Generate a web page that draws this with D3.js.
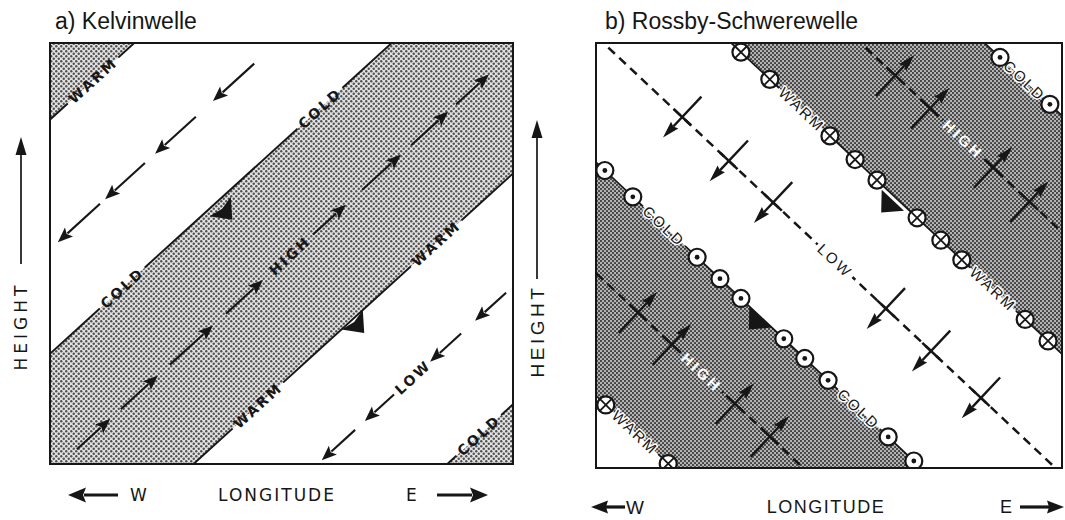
<!DOCTYPE html>
<html><head><meta charset="utf-8">
<script src="https://cdn.jsdelivr.net/npm/d3@7"></script>
<style>body{margin:0;background:#fff} svg{display:block}</style>
</head><body>
<svg id="c" width="1065" height="520"></svg>
<script>
// ---------------- data ----------------
const titles = ["a) Kelvinwelle", "b) Rossby-Schwerewelle"];
const axisX = "LONGITUDE", axisY = "HEIGHT", westLabel = "W", eastLabel = "E";

// Panel a (Kelvin wave): phase lines  longitude - height = phase  (unit square)
const kelvinLinePhase   = [-0.818, -0.262, 0.31, 0.858];
const kelvinLineName    = ["WARM", "COLD", "WARM", "COLD"];
const kelvinLineLabelAt = [[0.093], [0.156, 0.583], [0.449, 0.834], [0.926]];
const kelvinShadedBands = [[-3, -0.818], [-0.262, 0.31], [0.858, 3]];
const kelvinRowPhase    = [-0.51, 0.023, 0.578];
const kelvinRowName     = [null, "HIGH", "LOW"];
const kelvinRowLabelAt  = [null, 0.518, 0.784];
const kelvinRowArrows   = [
  [[0.441, 0.352], [0.315, 0.227], [0.205, 0.119], [0.108, 0.017]],
  [[0.058, 0.13], [0.153, 0.233], [0.259, 0.352], [0.38, 0.46], [0.568, 0.639], [0.674, 0.758], [0.78, 0.86], [0.877, 0.948]],
  [[0.985, 0.918], [0.888, 0.821], [0.743, 0.68], [0.659, 0.587]]
];
const kelvinPropagation = [[0.378, -0.221], [0.663, 0.333]]; // [longitude, phase]

// Panel b (Rossby-gravity wave): phase lines  longitude + 0.97*height = phase
const rgSlope        = 0.97;
const rgShadedBands  = [[0.165, 0.698], [1.26, 1.804]];
const rgWarmPhase    = [0.165, 1.26];
const rgWarmMarks    = [[0.021, 0.155], [0.311, 0.373, 0.502, 0.556, 0.603, 0.689, 0.74, 0.785, 0.921, 0.97]];
const rgWarmLabelAt  = [[0.084], [0.442, 0.852]];
const rgColdPhase    = [0.698, 1.804];
const rgColdMarks    = [[0.019, 0.079, 0.217, 0.266, 0.311, 0.403, 0.448, 0.498, 0.627, 0.682], [0.867, 0.974]];
const rgColdLabelAt  = [[0.146, 0.564], [0.92]];
const rgAxisPhase    = [0.445, 0.986, 1.538];
const rgAxisName     = ["HIGH", "LOW", "HIGH"];
const rgAxisLabelAt  = [0.227, 0.513, 0.788];
const rgAxisDir      = [1, -1, 1];   // +1 upward/eastward, -1 downward/westward
const rgAxisArrows   = [[0.09, 0.163, 0.298, 0.373], [0.185, 0.285, 0.38, 0.622, 0.719, 0.826], [0.642, 0.717, 0.852, 0.93]];
const rgPropagation  = [[0.627, 1.227], [0.343, 0.676]]; // [longitude, phase]

// ---------------- drawing ----------------
const INK = "#161616";
const svg = d3.select("#c");
const defs = svg.append("defs");

// halftone patterns
const pa = defs.append("pattern").attr("id", "dotsA").attr("patternUnits", "userSpaceOnUse").attr("width", 5).attr("height", 5);
pa.append("rect").attr("width", 5).attr("height", 5).attr("fill", "#e2e2e2");
[[1.25, 1.25], [3.75, 3.75]].forEach(p => pa.append("circle").attr("cx", p[0]).attr("cy", p[1]).attr("r", 1.2).attr("fill", "#505050"));
const pb = defs.append("pattern").attr("id", "dotsB").attr("patternUnits", "userSpaceOnUse").attr("width", 4).attr("height", 4);
pb.append("rect").attr("width", 4).attr("height", 4).attr("fill", "#b4b4b4");
[[1, 1], [3, 3]].forEach(p => pb.append("circle").attr("cx", p[0]).attr("cy", p[1]).attr("r", 1.05).attr("fill", "#3a3a3a"));

function norm(v) { const L = Math.hypot(v[0], v[1]); return [v[0] / L, v[1] / L]; }

function arrow(g, p0, p1, o) {
  const u = norm([p1[0] - p0[0], p1[1] - p0[1]]);
  const bx = p1[0] - u[0] * o.head, by = p1[1] - u[1] * o.head;
  g.append("line").attr("x1", p0[0]).attr("y1", p0[1])
    .attr("x2", bx + u[0] * 2).attr("y2", by + u[1] * 2)
    .attr("stroke", INK).attr("stroke-width", o.w);
  const nb = o.notch || 0;
  g.append("path").attr("d",
    `M${p1[0]},${p1[1]}L${bx - u[1] * o.hw},${by + u[0] * o.hw}L${bx + u[0] * nb},${by + u[1] * nb}L${bx + u[1] * o.hw},${by - u[0] * o.hw}Z`)
    .attr("fill", INK);
}

function makeMask(id) {
  const m = defs.append("mask").attr("id", id).attr("maskUnits", "userSpaceOnUse")
    .attr("x", 0).attr("y", 0).attr("width", 1065).attr("height", 520);
  m.append("rect").attr("width", 1065).attr("height", 520).attr("fill", "#fff");
  return m;
}

function lineLabel(g, mask, p, angle, txt, st) {
  const t = g.append("text").attr("transform", `translate(${p[0]},${p[1]}) rotate(${angle})`)
    .attr("text-anchor", "middle").attr("dy", "0.36em")
    .style("font-family", st.font).style("font-size", st.size + "px")
    .style("font-weight", st.weight || "normal").style("letter-spacing", (st.ls || 0) + "px")
    .attr("fill", st.fill || INK).text(txt);
  if (st.halo) t.attr("stroke", st.halo).attr("stroke-width", 3).attr("stroke-linejoin", "round").attr("paint-order", "stroke");
  const L = t.node().getComputedTextLength();
  if (mask) mask.append("rect").attr("x", -L / 2 - (st.pad || 4)).attr("y", -6).attr("width", L + 2 * (st.pad || 4)).attr("height", 12)
    .attr("fill", "#000").attr("transform", `translate(${p[0]},${p[1]}) rotate(${angle})`);
}

// ================= Panel a =================
(function () {
  const xa = d3.scaleLinear().domain([0, 1]).range([50, 513]);
  const ya = d3.scaleLinear().domain([0, 1]).range([464, 43]);
  const pt = (x, c) => [xa(x), ya(x - c)];
  const u = norm([xa(1) - xa(0), ya(1) - ya(0)]);        // along phase line (up-right)
  const n = [-u[1], u[0]];                                 // normal (down-right)
  const ang = Math.atan2(u[1], u[0]) * 180 / Math.PI;

  defs.append("clipPath").attr("id", "clipA").append("rect")
    .attr("x", xa(0)).attr("y", ya(1)).attr("width", xa(1) - xa(0)).attr("height", ya(0) - ya(1));
  const mask = makeMask("maskA");
  const g = svg.append("g").attr("clip-path", "url(#clipA)");
  g.append("rect").attr("x", xa(0)).attr("y", ya(1)).attr("width", xa(1) - xa(0)).attr("height", ya(0) - ya(1)).attr("fill", "#fff");

  kelvinShadedBands.forEach(([c1, c2]) => {
    g.append("path").attr("fill", "url(#dotsA)").attr("d", d3.line()([
      [xa(c1 - 1), ya(-1)], [xa(c1 + 2), ya(2)], [xa(c2 + 2), ya(2)], [xa(c2 - 1), ya(-1)]]) + "Z");
  });

  const gl = g.append("g").attr("mask", "url(#maskA)");
  const gt = g.append("g");
  const labSt = { font: "'DejaVu Sans', sans-serif", size: 14, weight: "bold", ls: 2.5, pad: 4 };
  kelvinLinePhase.forEach((c, i) => {
    gl.append("line").attr("x1", xa(c - 0.5)).attr("y1", ya(-0.5)).attr("x2", xa(c + 1.5)).attr("y2", ya(1.5))
      .attr("stroke", INK).attr("stroke-width", 1.9);
    kelvinLineLabelAt[i].forEach(x => lineLabel(gt, mask, pt(x, c), ang, kelvinLineName[i], labSt));
  });

  kelvinRowPhase.forEach((c, i) => {
    kelvinRowArrows[i].forEach(([x0, x1]) => arrow(g, pt(x0, c), pt(x1, c), { w: 2.1, head: 15, hw: 6, notch: 3 }));
    if (kelvinRowName[i]) lineLabel(gt, null, pt(kelvinRowLabelAt[i], c), ang, kelvinRowName[i], labSt);
  });

  kelvinPropagation.forEach(([x, c]) => {
    const P = pt(x, c), h = 18;
    const tip = [P[0] + n[0] * h * 0.6, P[1] + n[1] * h * 0.6];
    const b = [P[0] - n[0] * h * 0.4, P[1] - n[1] * h * 0.4];
    g.append("path").attr("fill", INK).attr("d",
      `M${tip[0]},${tip[1]}L${b[0] + u[0] * h * 0.8},${b[1] + u[1] * h * 0.8}L${b[0] + n[0] * 3},${b[1] + n[1] * 3}L${b[0] - u[0] * h * 0.8},${b[1] - u[1] * h * 0.8}Z`);
  });

  svg.append("rect").attr("x", xa(0)).attr("y", ya(1)).attr("width", xa(1) - xa(0)).attr("height", ya(0) - ya(1))
    .attr("fill", "none").attr("stroke", INK).attr("stroke-width", 2);

  // title
  svg.append("text").attr("x", 55).attr("y", 29).style("font-family", "'Liberation Sans', Arial, sans-serif")
    .style("font-size", "23px").attr("fill", INK).text(titles[0]);

  // height axis
  arrow(svg, [21, 264], [21, 137], { w: 1.7, head: 18, hw: 5.5 });
  svg.append("text").attr("transform", "translate(21,326) rotate(-90)").attr("text-anchor", "middle").attr("dy", "0.36em")
    .style("font-family", "'DejaVu Sans', sans-serif").style("font-size", "17px").style("letter-spacing", "4px")
    .attr("fill", INK).text(axisY);

  // longitude axis
  const fa = { font: "'DejaVu Sans', sans-serif" };
  arrow(svg, [118, 495], [68, 495], { w: 3, head: 18, hw: 7.5, notch: 3 });
  svg.append("text").attr("x", 130).attr("y", 495).attr("dy", "0.36em").style("font-family", fa.font).style("font-size", "17px").attr("fill", INK).text(westLabel);
  svg.append("text").attr("x", 277).attr("y", 495).attr("dy", "0.36em").attr("text-anchor", "middle").style("font-family", fa.font)
    .style("font-size", "17px").style("letter-spacing", "2px").attr("fill", INK).text(axisX);
  svg.append("text").attr("x", 406).attr("y", 495).attr("dy", "0.36em").style("font-family", fa.font).style("font-size", "17px").attr("fill", INK).text(eastLabel);
  arrow(svg, [437, 495], [488, 495], { w: 3, head: 18, hw: 7.5, notch: 3 });
})();

// ================= Panel b =================
(function () {
  const xb = d3.scaleLinear().domain([0, 1]).range([596, 1062]);
  const yb = d3.scaleLinear().domain([0, 1]).range([468, 43]);
  const pt = (x, c) => [xb(x), yb((c - x) / rgSlope)];
  const u = norm([xb(1) - xb(0), yb(-1 / rgSlope) - yb(0)]);  // along (down-right)
  const nUp = [u[1], -u[0]];                                   // normal up-right
  const ang = Math.atan2(u[1], u[0]) * 180 / Math.PI;

  defs.append("clipPath").attr("id", "clipB").append("rect")
    .attr("x", xb(0)).attr("y", yb(1)).attr("width", xb(1) - xb(0)).attr("height", yb(0) - yb(1));
  const mask = makeMask("maskB");
  const g = svg.append("g").attr("clip-path", "url(#clipB)");
  g.append("rect").attr("x", xb(0)).attr("y", yb(1)).attr("width", xb(1) - xb(0)).attr("height", yb(0) - yb(1)).attr("fill", "#fff");

  const seg = (c, a, b) => [[xb(c - rgSlope * a), yb(a)], [xb(c - rgSlope * b), yb(b)]];
  rgShadedBands.forEach(([c1, c2]) => {
    const s1 = seg(c1, -1, 2), s2 = seg(c2, 2, -1);
    g.append("path").attr("fill", "url(#dotsB)").attr("d", d3.line()([s1[0], s1[1], s2[0], s2[1]]) + "Z");
  });

  const gl = g.append("g").attr("mask", "url(#maskB)");
  const gt = g.append("g");
  const ffb = "'Liberation Sans', Arial, sans-serif";

  // dashed HIGH / LOW axes
  rgAxisPhase.forEach((c, i) => {
    const s = seg(c, -0.5, 1.5);
    gl.append("line").attr("x1", s[0][0]).attr("y1", s[0][1]).attr("x2", s[1][0]).attr("y2", s[1][1])
      .attr("stroke", INK).attr("stroke-width", 2.5).attr("stroke-dasharray", "9,6");
    const isHigh = rgAxisName[i] === "HIGH";
    lineLabel(gt, mask, pt(rgAxisLabelAt[i], c), ang, rgAxisName[i],
      isHigh ? { font: ffb, size: 15, weight: "bold", ls: 3, pad: 3, fill: "#fff" }
             : { font: ffb, size: 15, weight: "normal", ls: 2.5, pad: 3 });
    rgAxisArrows[i].forEach(x => {
      const P = pt(x, c), d = rgAxisDir[i], L = 28;
      const tail = [P[0] - nUp[0] * L * d, P[1] - nUp[1] * L * d];
      const tip = [P[0] + nUp[0] * L * d, P[1] + nUp[1] * L * d];
      g.append("line").attr("x1", P[0] - u[0] * 12).attr("y1", P[1] - u[1] * 12)
        .attr("x2", P[0] + u[0] * 12).attr("y2", P[1] + u[1] * 12).attr("stroke", INK).attr("stroke-width", 2.5);
      arrow(g, tail, tip, { w: 2.4, head: 17, hw: 5, notch: 2 });
    });
  });

  // WARM / COLD lines with symbols
  const gs = g.append("g");
  function markedLine(c, marks, labels, name, warm) {
    const s = seg(c, -0.5, 1.5);
    gl.append("line").attr("x1", s[0][0]).attr("y1", s[0][1]).attr("x2", s[1][0]).attr("y2", s[1][1])
      .attr("stroke", INK).attr("stroke-width", 1.7);
    labels.forEach(x => lineLabel(gt, mask, pt(x, c), ang, name, { font: ffb, size: 15, weight: "normal", ls: 2.5, pad: 3, halo: "#fff" }));
    marks.forEach(x => {
      const P = pt(x, c), r = 8.5;
      gs.append("circle").attr("cx", P[0]).attr("cy", P[1]).attr("r", r).attr("fill", "#fff").attr("stroke", INK).attr("stroke-width", 2.2);
      if (warm) {
        const k = r * 0.7;
        gs.append("path").attr("d", `M${P[0] - k},${P[1] - k}L${P[0] + k},${P[1] + k}M${P[0] - k},${P[1] + k}L${P[0] + k},${P[1] - k}`)
          .attr("stroke", INK).attr("stroke-width", 1.8);
      } else {
        gs.append("circle").attr("cx", P[0]).attr("cy", P[1]).attr("r", 2.4).attr("fill", INK);
      }
    });
  }
  rgWarmPhase.forEach((c, i) => markedLine(c, rgWarmMarks[i], rgWarmLabelAt[i], "WARM", true));
  rgColdPhase.forEach((c, i) => markedLine(c, rgColdMarks[i], rgColdLabelAt[i], "COLD", false));

  // phase propagation (down-left)
  rgPropagation.forEach(([x, c]) => {
    const P = pt(x, c), h = 17, n = [-nUp[0], -nUp[1]];
    const tip = [P[0] + n[0] * h * 0.6, P[1] + n[1] * h * 0.6];
    const b = [P[0] - n[0] * h * 0.4, P[1] - n[1] * h * 0.4];
    g.append("path").attr("fill", INK).attr("d",
      `M${tip[0]},${tip[1]}L${b[0] + u[0] * h * 0.9},${b[1] + u[1] * h * 0.9}L${b[0] - u[0] * h * 0.9},${b[1] - u[1] * h * 0.9}Z`);
  });

  svg.append("rect").attr("x", xb(0)).attr("y", yb(1)).attr("width", xb(1) - xb(0)).attr("height", yb(0) - yb(1))
    .attr("fill", "none").attr("stroke", INK).attr("stroke-width", 2);

  svg.append("text").attr("x", 605).attr("y", 29).style("font-family", ffb)
    .style("font-size", "23px").attr("fill", INK).text(titles[1]);

  arrow(svg, [537, 279], [537, 120], { w: 1.7, head: 18, hw: 5.5 });
  svg.append("text").attr("transform", "translate(537,331) rotate(-90)").attr("text-anchor", "middle").attr("dy", "0.36em")
    .style("font-family", ffb).style("font-size", "19px").style("letter-spacing", "3.5px").attr("fill", INK).text(axisY);

  arrow(svg, [625, 507], [591, 507], { w: 3.2, head: 17, hw: 6.5, notch: 2 });
  svg.append("text").attr("x", 626).attr("y", 507).attr("dy", "0.36em").style("font-family", ffb).style("font-size", "19px").attr("fill", INK).text(westLabel);
  svg.append("text").attr("x", 826).attr("y", 507).attr("dy", "0.36em").attr("text-anchor", "middle").style("font-family", ffb)
    .style("font-size", "18px").style("letter-spacing", "1.5px").attr("fill", INK).text(axisX);
  svg.append("text").attr("x", 1000).attr("y", 507).attr("dy", "0.36em").style("font-family", ffb).style("font-size", "18px").attr("fill", INK).text(eastLabel);
  arrow(svg, [1020, 507], [1064, 507], { w: 3.2, head: 17, hw: 6.5, notch: 2 });
})();
</script>
</body></html>
